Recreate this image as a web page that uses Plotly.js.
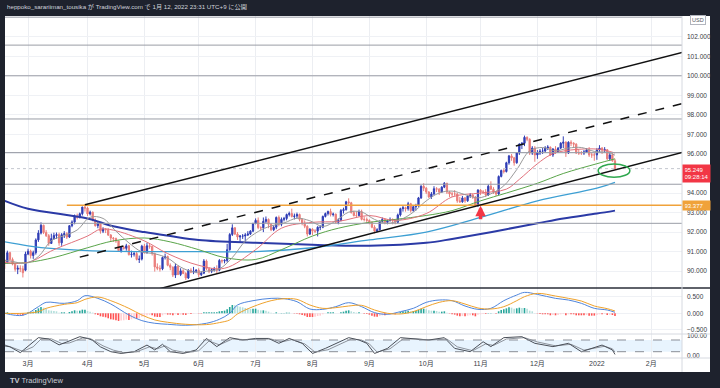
<!DOCTYPE html>
<html><head><meta charset="utf-8">
<script src="https://cdn.plot.ly/plotly-3.0.1.min.js"></script>
<style>html,body{margin:0;padding:0;background:#1e222d;}#chart{width:720px;height:388px;}</style>
</head><body><div id="chart"></div>
<script>
// ---------- DATA (DXY daily, 2021-02-16 .. 2022-01-12) ----------
const opens = [
90.48,90.46,90.95,90.60,90.36,90.10,90.15,90.12,90.05,
90.88,91.02,90.80,90.95,91.60,91.95,92.35,91.98,91.82,91.42,91.67,91.83,91.87,91.45,91.87,91.92,91.75,92.33,92.52,92.82,92.76,92.94,93.28,
93.23,92.93,93.02,92.62,92.33,92.45,92.05,92.16,92.12,91.85,91.70,91.67,91.55,91.05,91.22,91.17,91.30,90.85,90.87,90.90,90.60,90.62,
91.28,90.95,91.30,91.27,90.90,90.22,90.15,90.12,90.70,90.75,90.30,90.20,89.80,90.25,89.83,90.02,89.88,89.65,90.05,89.95,90.00,
90.05,89.82,89.90,90.52,90.13,90.00,90.08,90.10,90.05,90.55,90.52,90.55,91.10,91.88,92.22,91.90,91.75,91.80,91.80,91.85,91.90,92.05,
92.44,92.60,92.23,92.22,92.55,92.65,92.40,92.12,92.25,92.75,92.40,92.65,92.70,92.90,92.95,92.80,92.82,92.90,92.65,92.45,92.30,91.90,
92.15,92.05,92.05,92.25,92.25,92.80,92.95,93.05,92.90,92.92,92.50,92.60,93.10,93.15,93.55,93.50,93.00,92.85,92.85,93.05,92.65,92.65,
92.60,92.50,92.25,92.05,92.12,92.55,92.65,92.50,92.58,92.65,92.62,92.50,92.88,93.20,93.25,93.20,93.45,93.10,93.30,93.35,93.75,94.35,
94.25,94.05,93.80,93.95,94.22,94.20,94.05,94.30,94.50,94.05,93.95,93.95,93.95,93.60,93.55,93.75,93.60,93.85,93.90,93.80,93.35,
94.15,94.05,94.05,93.90,94.35,94.20,94.05,93.95,94.85,95.15,95.10,95.55,95.90,95.80,95.55,96.05,96.50,96.55,96.85,96.75,96.05,96.30,
95.95,96.05,96.15,96.15,96.30,96.35,95.95,96.25,96.10,96.30,96.55,96.60,96.05,96.60,96.55,96.50,96.05,96.05,96.05,96.10,96.20,95.95,95.95,
95.95,96.20,96.30,96.20,96.22,95.75,95.95,95.65];
const highs = [
90.62,91.05,91.00,90.70,90.40,90.30,90.30,90.28,91.00,
91.15,91.10,91.05,91.68,92.10,92.50,92.38,92.10,91.90,91.92,91.97,91.98,91.97,91.95,92.05,92.00,92.35,92.60,92.90,92.95,93.00,93.30,93.44,
93.30,93.10,93.05,92.70,92.55,92.48,92.25,92.20,92.20,91.90,91.75,91.72,91.55,91.25,91.30,91.40,91.35,91.05,90.98,91.00,90.80,91.35,
91.40,91.45,91.40,91.30,90.95,90.40,90.30,90.75,90.90,90.80,90.40,90.25,90.40,90.30,90.15,90.10,89.95,90.10,90.15,90.22,90.10,
90.15,90.00,90.62,90.60,90.20,90.15,90.22,90.30,90.62,90.60,90.62,91.40,91.95,92.40,92.25,92.00,91.85,91.90,91.95,92.05,92.10,92.48,
92.70,92.75,92.30,92.75,92.80,92.70,92.45,92.35,92.80,92.85,92.75,92.78,92.95,93.05,93.20,92.95,93.00,92.95,92.70,92.60,92.35,92.20,
92.20,92.15,92.30,92.35,92.85,93.00,93.10,93.20,93.00,92.95,92.70,93.18,93.25,93.60,93.73,93.55,93.10,93.05,93.15,93.15,92.80,92.75,
92.65,92.55,92.35,92.20,92.60,92.75,92.70,92.65,92.75,92.70,92.65,92.95,93.25,93.35,93.30,93.55,93.50,93.35,93.45,93.80,94.40,94.50,
94.30,94.10,94.05,94.35,94.30,94.25,94.35,94.56,94.52,94.10,94.05,94.15,94.00,93.80,93.85,93.80,93.90,94.00,93.95,93.85,94.20,
94.20,94.15,94.20,94.45,94.60,94.30,94.10,94.90,95.20,95.25,95.60,95.95,96.00,95.85,96.10,96.55,96.60,96.94,96.90,96.80,96.40,96.40,
96.20,96.25,96.30,96.40,96.45,96.38,96.30,96.40,96.35,96.60,96.90,96.65,96.65,96.70,96.60,96.55,96.25,96.15,96.20,96.30,96.35,96.05,96.05,
96.30,96.45,96.35,96.35,96.25,96.10,96.05,95.75];
const lows = [
90.12,90.40,90.52,90.30,89.98,89.85,89.95,89.68,90.00,
90.82,90.65,90.63,90.85,91.50,91.88,91.90,91.75,91.30,91.40,91.60,91.65,91.30,91.30,91.70,91.65,91.70,92.25,92.40,92.65,92.70,92.85,93.05,
92.82,92.85,92.55,92.28,92.20,91.92,91.95,91.95,91.80,91.55,91.50,91.45,91.00,90.95,91.10,91.05,90.80,90.70,90.75,90.55,90.42,90.55,
90.90,90.90,91.15,90.80,89.98,90.05,89.98,90.05,90.60,90.25,90.05,89.70,89.65,89.80,89.75,89.85,89.55,89.60,89.90,89.85,89.90,
89.70,89.75,89.85,90.05,89.90,89.90,89.98,89.90,90.00,90.40,90.40,90.45,91.05,91.80,91.85,91.60,91.50,91.65,91.50,91.80,91.85,92.00,
92.40,92.15,92.10,92.00,92.45,92.20,92.05,92.05,92.15,92.30,92.30,92.55,92.60,92.80,92.75,92.65,92.70,92.55,92.35,92.20,91.78,91.85,
91.85,91.95,91.78,92.10,92.20,92.75,92.85,92.80,92.80,92.45,92.40,92.55,92.95,93.10,93.40,92.95,92.80,92.75,92.80,92.60,92.55,92.45,
92.40,92.20,91.94,92.00,92.10,92.45,92.40,92.40,92.55,92.40,92.40,92.45,92.80,93.05,93.05,93.10,93.00,93.05,93.10,93.30,93.70,94.10,
93.95,93.75,93.70,93.90,94.05,93.90,94.00,94.25,93.95,93.80,93.80,93.85,93.50,93.50,93.50,93.50,93.55,93.75,93.70,93.28,93.30,
93.90,93.95,93.80,93.85,94.15,93.95,93.85,93.90,94.80,95.00,95.05,95.45,95.65,95.40,95.50,95.95,96.25,96.40,96.65,95.95,95.95,95.60,
95.75,95.95,96.00,96.05,96.20,95.90,95.85,96.00,96.05,96.25,96.30,95.85,96.00,96.40,96.35,96.00,95.95,95.95,95.95,96.05,95.85,95.80,95.65,
95.70,96.10,96.00,96.05,95.70,95.65,95.60,95.20];
const closes = [
90.46,90.95,90.60,90.36,90.10,90.15,90.12,89.92,90.88,
91.02,90.80,90.95,91.60,91.95,92.35,91.98,91.82,91.42,91.67,91.83,91.87,91.45,91.87,91.92,91.75,92.33,92.52,92.82,92.76,92.94,93.28,93.23,
92.93,93.02,92.62,92.33,92.45,92.05,92.16,92.12,91.85,91.70,91.67,91.55,91.05,91.22,91.17,91.30,90.85,90.87,90.90,90.60,90.62,91.28,
90.95,91.30,91.27,90.90,90.22,90.15,90.12,90.70,90.75,90.30,90.20,89.80,90.25,89.83,90.02,89.88,89.65,90.05,89.95,90.00,90.05,
89.82,89.90,90.52,90.13,90.00,90.08,90.10,90.05,90.55,90.52,90.55,91.10,91.88,92.22,91.90,91.75,91.80,91.80,91.85,91.90,92.05,92.44,
92.60,92.23,92.22,92.55,92.65,92.40,92.12,92.25,92.75,92.40,92.65,92.70,92.90,92.95,92.80,92.82,92.90,92.65,92.45,92.30,91.90,92.15,
92.05,92.05,92.25,92.25,92.80,92.95,93.05,92.90,92.92,92.50,92.60,93.10,93.15,93.55,93.50,93.00,92.85,92.85,93.05,92.65,92.65,92.60,
92.50,92.25,92.05,92.12,92.55,92.65,92.50,92.58,92.65,92.62,92.50,92.88,93.20,93.25,93.20,93.45,93.10,93.30,93.35,93.75,94.35,94.25,
94.05,93.80,93.95,94.22,94.20,94.05,94.30,94.50,94.05,93.95,93.95,93.95,93.60,93.55,93.75,93.60,93.85,93.90,93.80,93.35,94.15,
94.05,94.05,93.90,94.35,94.20,94.05,93.95,94.85,95.15,95.10,95.55,95.90,95.80,95.55,96.05,96.50,96.55,96.85,96.75,96.05,96.30,95.95,
96.05,96.15,96.15,96.30,96.35,95.95,96.25,96.10,96.30,96.55,96.60,96.05,96.60,96.55,96.50,96.05,96.05,96.05,96.10,96.20,95.95,95.95,95.95,
96.20,96.30,96.20,96.22,95.75,95.95,95.65,95.249];

// MACD histogram (daily)
const macdHist = [
0.02,0.03,0.01,-0.01,-0.03,-0.04,-0.04,-0.06,-0.02,
0.03,0.03,0.05,0.10,0.15,0.19,0.17,0.14,0.09,0.08,0.07,0.06,0.02,0.03,0.03,0.01,0.04,0.06,0.09,0.08,0.08,0.11,0.11,
0.07,0.05,0.02,-0.03,-0.05,-0.09,-0.10,-0.12,-0.15,-0.18,-0.19,-0.21,-0.23,-0.22,-0.21,-0.19,-0.20,-0.18,-0.16,-0.16,-0.15,-0.10,
-0.09,-0.06,-0.05,-0.06,-0.10,-0.11,-0.11,-0.06,-0.03,-0.04,-0.04,-0.06,-0.03,-0.05,-0.04,-0.04,-0.05,-0.02,-0.02,-0.01,0.0,
-0.01,-0.01,0.03,0.03,0.03,0.03,0.03,0.03,0.06,0.07,0.08,0.12,0.19,0.25,0.24,0.22,0.20,0.18,0.16,0.14,0.13,0.14,
0.14,0.11,0.09,0.09,0.08,0.05,0.02,0.01,0.03,0.01,0.01,0.01,0.02,0.02,0.0,-0.01,-0.01,-0.03,-0.05,-0.07,-0.11,-0.11,
-0.11,-0.10,-0.08,-0.07,-0.03,0.0,0.03,0.03,0.03,0.0,0.0,0.03,0.05,0.08,0.09,0.06,0.04,0.02,0.03,0.0,-0.01,-0.02,
-0.04,-0.07,-0.10,-0.10,-0.08,-0.06,-0.06,-0.05,-0.04,-0.03,-0.03,0.0,0.04,0.06,0.06,0.08,0.06,0.07,0.07,0.10,0.14,0.14,
0.12,0.09,0.08,0.08,0.07,0.05,0.05,0.06,0.02,-0.01,-0.03,-0.04,-0.07,-0.09,-0.08,-0.09,-0.07,-0.06,-0.06,-0.09,-0.04,
-0.03,-0.02,-0.02,0.01,0.01,0.0,-0.01,0.06,0.10,0.12,0.15,0.18,0.17,0.14,0.15,0.17,0.16,0.16,0.14,0.08,0.06,0.01,
-0.01,-0.02,-0.03,-0.03,-0.03,-0.06,-0.05,-0.06,-0.05,-0.03,-0.02,-0.06,-0.03,-0.03,-0.03,-0.06,-0.06,-0.06,-0.06,-0.05,-0.07,-0.07,-0.07,
-0.05,-0.03,-0.03,-0.02,-0.05,-0.04,-0.05,-0.08];

// Moving averages
const maFastDates = ['2021-02-16','2021-02-19','2021-02-26','2021-03-05','2021-03-12','2021-03-19','2021-03-26','2021-04-02','2021-04-09','2021-04-16','2021-04-23','2021-04-30','2021-05-07','2021-05-14','2021-05-21','2021-05-28','2021-06-04','2021-06-11','2021-06-18','2021-06-25','2021-07-02','2021-07-09','2021-07-16','2021-07-23','2021-07-30','2021-08-06','2021-08-13','2021-08-20','2021-08-27','2021-09-03','2021-09-10','2021-09-17','2021-09-24','2021-10-01','2021-10-08','2021-10-15','2021-10-22','2021-10-29','2021-11-05','2021-11-12','2021-11-19','2021-11-26','2021-12-03','2021-12-10','2021-12-17','2021-12-24','2021-12-31','2022-01-07','2022-01-12'];
const maFast = [90.55,90.5,90.4,90.75,91.56,91.82,92.11,92.76,92.70,92.05,91.45,90.99,90.89,90.67,90.21,89.96,90.0,90.12,90.7,91.54,92.03,92.32,92.47,92.71,92.58,92.29,92.57,93.02,93.03,92.65,92.45,92.63,93.02,93.6,94.0,94.1,93.92,93.75,93.96,94.37,95.2,96.16,96.33,96.16,96.3,96.33,96.13,96.08,95.94];
const ma20Dates = ['2021-02-16','2021-03-01','2021-03-15','2021-04-01','2021-04-08','2021-04-15','2021-05-03','2021-05-14','2021-06-01','2021-06-15','2021-07-01','2021-07-15','2021-08-02','2021-08-16','2021-09-01','2021-09-15','2021-10-01','2021-10-15','2021-11-01','2021-11-15','2021-11-22','2021-12-01','2021-12-08','2021-12-15','2022-01-03','2022-01-12'];
const ma20 = [90.45,90.45,91.1,91.8,92.15,92.1,91.55,90.9,90.3,90.15,91.1,92.2,92.5,92.55,92.85,92.6,92.95,93.8,94.0,94.2,94.7,95.5,95.95,96.15,96.25,96.05];
const ma50Dates = ['2021-02-16','2021-03-01','2021-03-15','2021-04-01','2021-04-15','2021-05-03','2021-05-17','2021-06-01','2021-06-15','2021-07-01','2021-07-15','2021-08-02','2021-08-16','2021-09-01','2021-09-15','2021-10-01','2021-10-15','2021-11-01','2021-11-15','2021-12-01','2021-12-15','2022-01-03','2022-01-12'];
const ma50 = [90.4,90.45,90.7,91.2,91.55,91.7,91.5,91.1,90.7,90.6,91.1,91.8,92.2,92.5,92.65,92.85,93.1,93.6,94.0,94.5,95.0,95.5,95.75];
const ma100Dates = ['2021-02-16','2021-03-01','2021-03-15','2021-04-01','2021-05-03','2021-06-01','2021-07-01','2021-08-02','2021-09-01','2021-10-01','2021-11-01','2021-12-01','2022-01-03','2022-01-12'];
const ma100 = [91.5,91.3,91.15,91.05,91.0,91.0,91.0,91.2,91.6,92.0,92.75,93.6,94.25,94.55];
const ma200Dates = ['2021-02-16','2021-03-01','2021-04-01','2021-04-15','2021-05-03','2021-05-17','2021-06-01','2021-07-01','2021-08-02','2021-09-01','2021-10-01','2021-10-15','2021-11-01','2021-11-15','2021-12-01','2021-12-15','2022-01-03','2022-01-12'];
const ma200 = [93.6,93.2,92.7,92.3,92.0,91.8,91.6,91.45,91.35,91.3,91.45,91.65,91.9,92.15,92.45,92.7,92.95,93.1];

// MACD / signal
const macdDates = ['2021-02-16','2021-02-25','2021-03-05','2021-03-10','2021-03-19','2021-03-26','2021-03-31','2021-04-07','2021-04-14','2021-04-23','2021-04-30','2021-05-07','2021-05-14','2021-05-25','2021-06-04','2021-06-11','2021-06-17','2021-06-22','2021-06-30','2021-07-09','2021-07-16','2021-07-23','2021-07-30','2021-08-06','2021-08-13','2021-08-20','2021-08-27','2021-09-03','2021-09-10','2021-09-17','2021-09-24','2021-10-01','2021-10-08','2021-10-15','2021-10-22','2021-10-29','2021-11-05','2021-11-12','2021-11-19','2021-11-24','2021-12-01','2021-12-10','2021-12-17','2021-12-24','2021-12-31','2022-01-07','2022-01-12'];
const macdLine = [0.0,-0.06,0.2,0.33,0.3,0.38,0.53,0.45,0.28,-0.05,-0.22,-0.3,-0.33,-0.36,-0.3,-0.18,0.0,0.25,0.38,0.45,0.44,0.35,0.13,0.12,0.2,0.32,0.2,0.02,-0.03,0.05,0.15,0.33,0.4,0.38,0.22,0.12,0.15,0.38,0.55,0.63,0.57,0.45,0.4,0.3,0.15,0.1,0.03];
const signalLine = [0.0,0.0,0.05,0.15,0.27,0.32,0.42,0.49,0.38,0.15,-0.05,-0.2,-0.27,-0.33,-0.34,-0.28,-0.2,-0.02,0.2,0.38,0.44,0.42,0.25,0.15,0.17,0.22,0.24,0.1,0.0,-0.02,0.05,0.2,0.33,0.38,0.28,0.16,0.13,0.2,0.38,0.5,0.6,0.52,0.45,0.37,0.22,0.14,0.07];

// Stochastic %K / %D
const kDates = ['2021-02-16','2021-02-18','2021-02-24','2021-03-02','2021-03-05','2021-03-11','2021-03-17','2021-03-22','2021-03-29','2021-04-01','2021-04-05','2021-04-08','2021-04-14','2021-04-20','2021-04-27','2021-05-04','2021-05-07','2021-05-12','2021-05-17','2021-05-24','2021-05-31','2021-06-04','2021-06-10','2021-06-17','2021-06-24','2021-07-01','2021-07-08','2021-07-14','2021-07-20','2021-07-27','2021-08-02','2021-08-09','2021-08-13','2021-08-20','2021-08-26','2021-08-31','2021-09-03','2021-09-10','2021-09-17','2021-09-24','2021-10-04','2021-10-12','2021-10-18','2021-10-26','2021-11-02','2021-11-05','2021-11-12','2021-11-23','2021-11-30','2021-12-09','2021-12-17','2021-12-24','2022-01-05','2022-01-11','2022-01-12'];
const kVals = [50,45,15,60,92,85,55,70,97,88,78,45,20,11,20,54,29,58,20,11,29,88,46,92,80,88,88,63,88,63,11,37,63,92,80,63,11,37,92,88,80,92,37,20,71,46,92,97,63,46,63,20,54,29,6];
const dDates = ['2021-02-16','2021-02-19','2021-02-25','2021-03-03','2021-03-08','2021-03-12','2021-03-18','2021-03-23','2021-03-30','2021-04-02','2021-04-06','2021-04-09','2021-04-15','2021-04-21','2021-04-28','2021-05-05','2021-05-10','2021-05-13','2021-05-18','2021-05-25','2021-06-01','2021-06-07','2021-06-11','2021-06-18','2021-06-25','2021-07-02','2021-07-09','2021-07-15','2021-07-21','2021-07-28','2021-08-03','2021-08-10','2021-08-16','2021-08-23','2021-08-27','2021-09-01','2021-09-06','2021-09-13','2021-09-20','2021-09-27','2021-10-05','2021-10-13','2021-10-19','2021-10-27','2021-11-03','2021-11-08','2021-11-15','2021-11-24','2021-12-01','2021-12-10','2021-12-20','2021-12-27','2022-01-06','2022-01-11','2022-01-12'];
const dVals = [55,40,22,45,85,86,62,65,90,88,72,50,28,15,20,45,35,50,28,15,25,75,55,85,82,85,85,70,82,60,18,30,55,85,80,60,18,35,85,85,80,85,45,25,60,52,85,92,70,50,58,28,48,35,18];

// Drawings (anchor points in date / price)
const trendUpper = {x:['2021-03-31','2022-02-17'], y:[93.40,101.19]};
const trendMid   = {x:['2021-03-29','2022-02-17'], y:[90.72,98.58]};
const trendLower = {x:['2021-05-03','2022-02-17'], y:[88.90,96.08]};
const hLevels = [103.0,101.57,100.0,97.79,96.07,94.45,92.45];
const orangeLevel = 93.377, orangeStart = '2021-03-22';
const ellipseMark = {x0:'2022-01-03 12:00', x1:'2022-01-19 18:00', y0:94.81, y1:95.48};
const arrowMark = {x:'2021-11-01', y:93.35};
const countdown = '09:28:14';
const priceTicks = [90,91,92,93,94,96,97,98,99,100,101,102];

const monthTicks = ['2021-03-01','2021-04-01','2021-05-03','2021-06-01','2021-07-01','2021-08-02','2021-09-01','2021-10-01','2021-11-01','2021-12-01','2022-01-03','2022-02-01'];
const monthLabels = ['3月','4月','5月','6月','7月','8月','9月','10月','11月','12月','2022','2月'];
const xStart = '2021-02-16 02:00', xEnd = '2022-02-16 22:00';

// ---------- BUILD ----------
const dates = [];
(function(){ let t = Date.UTC(2021,1,16); const end = Date.UTC(2022,0,12);
  while (t <= end) { const d = new Date(t); const wd = d.getUTCDay(); if (wd !== 0 && wd !== 6) dates.push(d.toISOString().slice(0,10)); t += 86400000; } })();
[opens,highs,lows,closes,macdHist].forEach((a,i)=>{ if(a.length!==dates.length) throw new Error('len mismatch '+i+': '+a.length+' vs '+dates.length); });

const FONT = 'Liberation Sans, Arial, Noto Sans CJK JP, sans-serif';
const lastPrice = closes[closes.length-1];
const traces = [];
traces.push({type:'candlestick', x:dates, open:opens, high:highs, low:lows, close:closes, xaxis:'x', yaxis:'y',
  increasing:{line:{color:'#2f3db5',width:1}, fillcolor:'#2f3db5'},
  decreasing:{line:{color:'#ea7d7a',width:1}, fillcolor:'#ea7d7a'},
  whiskerwidth:0, hoverinfo:'skip', showlegend:false});
function line(x,y,lineSpec,yaxis){ return {type:'scatter',mode:'lines',x:x,y:y,xaxis:'x',yaxis:yaxis||'y',line:lineSpec,hoverinfo:'skip',showlegend:false}; }
traces.push(line(ma200Dates,ma200,{color:'#2b3aa6',width:2,shape:'spline'}));
traces.push(line(ma100Dates,ma100,{color:'#3d9fd3',width:1.3,shape:'spline'}));
traces.push(line(ma50Dates,ma50,{color:'#5aa54a',width:1,shape:'spline'}));
traces.push(line(ma20Dates,ma20,{color:'#e2727c',width:1,shape:'spline'}));
traces.push(line(maFastDates,maFast,{color:'#9a9a9a',width:1,shape:'spline'}));
// horizontal levels
hLevels.forEach(v=>traces.push(line([xStart,xEnd],[v,v],{color:'#9a9da6',width:1})));
traces.push(line([xStart,xEnd],[lastPrice,lastPrice],{color:'#c3c6ce',width:1,dash:'dot'}));
traces.push(line([orangeStart,xEnd],[orangeLevel,orangeLevel],{color:'#f0a23a',width:1.5}));
// trend lines
traces.push(line(trendUpper.x,trendUpper.y,{color:'#111111',width:1.5}));
traces.push(line(trendMid.x,trendMid.y,{color:'#111111',width:1.5,dash:'dash'}));
traces.push(line(trendLower.x,trendLower.y,{color:'#111111',width:1.5}));

// MACD panel
const histColors = macdHist.map((v,i)=>{ const p = i>0?macdHist[i-1]:0;
  if (v>=0) return v>=p ? '#26a69a' : '#b2dfdb'; return v<=p ? '#ff5252' : '#ffcdd2'; });
traces.push({type:'bar', x:dates, y:macdHist, xaxis:'x', yaxis:'y2', marker:{color:histColors,line:{width:0}}, width:0.62*86400000, hoverinfo:'skip', showlegend:false});
traces.push(line(macdDates,macdLine,{color:'#4f85dc',width:1,shape:'spline'},'y2'));
traces.push(line(macdDates,signalLine,{color:'#efa22c',width:1,shape:'spline'},'y2'));
// Stoch panel
traces.push(line(dDates,dVals,{color:'#8d939c',width:1},'y3'));
traces.push(line(kDates,kVals,{color:'#4b5059',width:1},'y3'));

// geometry (paper fractions for plot area 5..682 x 16..358)
const PX0=5, PX1=682, PY0=16, PY1=358, PW=PX1-PX0, PH=PY1-PY0;
const fx = px => (px-PX0)/PW, fy = py => (PY1-py)/PH;
const dMain=[fy(288),1], dMacd=[fy(334),fy(288)], dSto=[0,fy(334)];

const tickFont = {family:FONT,size:6.5,color:'#3a3d45'};
const yCommon = {side:'right', showline:false, zeroline:false, ticks:'', gridcolor:'#eff1f5', gridwidth:1, tickfont:tickFont, fixedrange:true, ticklabelstandoff:4};
const layout = {
  width:720, height:388, paper_bgcolor:'#1e222d', plot_bgcolor:'#ffffff',
  margin:{l:PX0, r:720-PX1, t:PY0, b:388-PY1}, showlegend:false, hovermode:false,
  font:{family:FONT},
  xaxis:{type:'date', range:[xStart,xEnd], rangebreaks:[{bounds:['sat','mon']}], rangeslider:{visible:false},
    tickvals:monthTicks, ticktext:monthLabels, ticks:'', showgrid:true, gridcolor:'#eceef2', gridwidth:1,
    tickfont:{family:FONT,size:7,color:'#3a3d45'}, anchor:'y3', showline:false, zeroline:false, fixedrange:true},
  yaxis:Object.assign({}, yCommon, {domain:dMain, range:[89.14,103.06], tickvals:priceTicks, tickformat:'.3f'}),
  yaxis2:Object.assign({}, yCommon, {domain:dMacd, range:[-0.623,0.762], tickvals:[-0.5,0,0.5], tickformat:'.3f'}),
  yaxis3:Object.assign({}, yCommon, {domain:dSto, range:[-12.3,110.8], tickvals:[0,100], tickformat:'.2f', showgrid:false}),
  shapes:[
    {type:'rect', xref:'paper', yref:'paper', x0:0, x1:fx(710), y0:fy(372), y1:1, fillcolor:'#ffffff', line:{width:0}, layer:'below'},
    {type:'rect', xref:'paper', yref:'y3', x0:0, x1:1, y0:20, y1:80, fillcolor:'rgba(33,150,243,0.1)', line:{width:0}, layer:'below'},
    {type:'line', xref:'paper', yref:'y3', x0:0, x1:1, y0:80, y1:80, line:{color:'#8a8e97',width:1,dash:'dash'}},
    {type:'line', xref:'paper', yref:'y3', x0:0, x1:1, y0:20, y1:20, line:{color:'#8a8e97',width:1,dash:'dash'}},
    {type:'line', xref:'paper', yref:'paper', x0:0, x1:fx(710), y0:fy(288), y1:fy(288), line:{color:'#2a2e39',width:1.5}},
    {type:'line', xref:'paper', yref:'paper', x0:0, x1:fx(710), y0:fy(334), y1:fy(334), line:{color:'#d6d9e0',width:1}},
    {type:'line', xref:'paper', yref:'paper', x0:0, x1:fx(710), y0:0, y1:0, line:{color:'#d6d9e0',width:1}},
    {type:'line', xref:'paper', yref:'paper', x0:1, x1:1, y0:fy(372), y1:1, line:{color:'#d6d9e0',width:1}},
    {type:'circle', xref:'x', yref:'y', x0:ellipseMark.x0, x1:ellipseMark.x1, y0:ellipseMark.y0, y1:ellipseMark.y1, line:{color:'#2fa84f',width:1.5}}
  ],
  annotations:[
    {xref:'paper', yref:'paper', x:0, y:fy(6.5), xanchor:'left', yanchor:'middle', showarrow:false,
      text:'heppoko_sarariiman_tousika が TradingView.com で 1月 12, 2022 23:31 UTC+9 に公開', font:{family:FONT,size:6.2,color:'#d1d4dc'}},
    {xref:'paper', yref:'paper', x:fx(8), y:fy(381), xanchor:'left', yanchor:'middle', showarrow:false,
      text:'<b>TV</b> TradingView', font:{family:FONT,size:7.5,color:'#c9ccd4'}},
    {xref:'paper', yref:'y', x:1, y:lastPrice, xanchor:'left', yanchor:'top', yshift:5, showarrow:false, align:'left',
      text:lastPrice.toFixed(3)+'<br>'+countdown, font:{family:FONT,size:6,color:'#ffffff'}, bgcolor:'#f23645', borderpad:1.5, width:24},
    {xref:'paper', yref:'y', x:1, y:orangeLevel, xanchor:'left', yanchor:'middle', showarrow:false, align:'left',
      text:orangeLevel.toFixed(3), font:{family:FONT,size:6,color:'#ffffff'}, bgcolor:'#f0a23a', borderpad:1.5, width:24},
    {xref:'paper', yref:'paper', x:fx(690), y:fy(20), xanchor:'left', yanchor:'middle', showarrow:false,
      text:'USD', font:{family:FONT,size:5.5,color:'#50535e'}, bgcolor:'#ffffff', bordercolor:'#b2b5be', borderwidth:1, borderpad:1},
    {xref:'x', yref:'y', x:arrowMark.x, y:arrowMark.y, ax:0, ay:15, text:'', showarrow:true, arrowhead:2, arrowsize:0.6, arrowwidth:3.5, arrowcolor:'#f23645'}
  ]
};
Plotly.newPlot('chart', traces, layout, {staticPlot:true, displayModeBar:false});
</script>
</body></html>
